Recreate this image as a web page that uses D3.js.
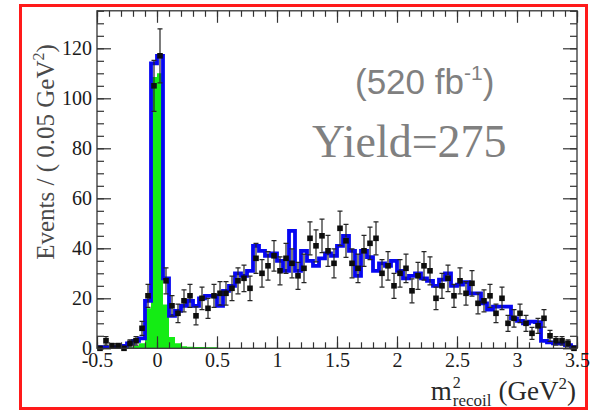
<!DOCTYPE html>
<html><head><meta charset="utf-8">
<script src="https://cdn.jsdelivr.net/npm/d3@7"></script>
<style>html,body{margin:0;padding:0;background:#fff;} svg{display:block}</style>
</head><body>
<svg id="chart" width="593" height="415"></svg>
<script>
// ---- data (80 bins of 0.05 GeV^2 from -0.5 to 3.5) ----
const binLow = -0.5, binWidth = 0.05, nBins = 80;
const dataCounts = [0,3,1,1,0,2,3,8,21,105, 117,27,17,14,19,21,13,20,16,21,
  22,22,24,27,28,24,36,30,33,37, 31,36,34,29,32,44,41,45,39,34,
  48,43,34,32,39,42,44,30,33,25, 30,32,23,29,33,31,20,25,28,21,
  27,22,26,18,19,21,14,20,10,12, 14,10,6,9,12,5,3,3,2,0];
const dataErrors = [0,1.7,1,1,0,1.4,1.7,2.8,4.6,10.2, 10.8,5.2,4.1,3.7,4.4,4.6,3.6,4.5,4.0,4.6,
  4.7,4.7,4.9,5.2,5.3,4.9,6.0,5.5,5.7,6.1, 5.6,6.0,5.8,5.4,5.7,6.6,6.4,6.7,6.2,5.8,
  6.9,6.6,5.8,5.7,6.2,6.5,6.6,5.5,5.7,5.0, 5.5,5.7,4.8,5.4,5.7,5.6,4.5,5.0,5.3,4.6,
  5.2,4.7,5.1,4.2,4.4,4.6,3.7,4.5,3.2,3.5, 3.7,3.2,2.4,3.0,3.5,2.2,1.7,1.7,1.4,0];
const fitTotal = [0.5,0.5,0.5,0.5,1,2,3,4,19,114, 117,28,13,15,17,19,17,20,21,21,
  17,23,25,30,29,31,41,39,37,38, 35,31,47,31,39,35,33,36,38,37,
  41,45,39,29,39,36.5,31,34,33,35, 31,28,29,30,28,27,25,27.5,30,25,
  25.5,26.5,22,22,18,15.5,16.7,16.7,16.7,12, 11,10,10.7,10.5,3,2.4,2,2,1.3,0.5];
const signalMC = [0,0,0,0,0,0.4,1,2,16,108.5, 110,17.5,4.5,2,0.8,0.6,0.5,0.5,0.4,0.4,
  0,0,0,0,0,0,0,0,0,0, 0,0,0,0,0,0,0,0,0,0, 0,0,0,0,0,0,0,0,0,0,
  0,0,0,0,0,0,0,0,0,0, 0,0,0,0,0,0,0,0,0,0, 0,0,0,0,0,0,0,0,0,0];
const xTickLabels = [-0.5,0,0.5,1,1.5,2,2.5,3,3.5];
const yTickLabels = [0,20,40,60,80,100,120];

// ---- layout ----
const svg = d3.select('#chart');
const X0 = 97, X1 = 577, Y0 = 348.3, Y1 = 10.8;
const x = d3.scaleLinear().domain([-0.5, 3.5]).range([X0, X1]);
const y = d3.scaleLinear().domain([0, 135]).range([Y0, Y1]);
const serif = "'Liberation Serif','Times New Roman',serif";
const sans = "'Liberation Sans',Arial,sans-serif";

svg.append('rect').attr('x', 20.5).attr('y', 5.5).attr('width', 566).attr('height', 403)
  .attr('fill', 'none').attr('stroke', '#ff1a1a').attr('stroke-width', 3);

svg.append('clipPath').attr('id', 'clip').append('rect')
  .attr('x', X0).attr('y', Y1).attr('width', X1 - X0).attr('height', Y0 - Y1);

const edges = d3.range(nBins + 1).map(i => binLow + i * binWidth);
const stepPts = vals => vals.map((v, i) => [edges[i], v]).concat([[edges[vals.length], vals[vals.length - 1]]]);
const plot = svg.append('g').attr('clip-path', 'url(#clip)');

plot.append('path')
  .attr('d', d3.area().curve(d3.curveStepAfter).x(d => x(d[0])).y0(y(0)).y1(d => y(d[1]))(stepPts(signalMC)))
  .attr('fill', '#14ec14');

plot.append('path')
  .attr('d', d3.line().curve(d3.curveStepAfter).x(d => x(d[0])).y(d => y(d[1]))(stepPts(fitTotal)))
  .attr('fill', 'none').attr('stroke', '#0707f2').attr('stroke-width', 3.8).attr('stroke-linejoin', 'miter');

const centers = dataCounts.map((v, i) => ({c: binLow + (i + 0.5) * binWidth, v, e: dataErrors[i]}));
const eb = plot.append('g').attr('stroke', '#262626').attr('stroke-width', 1.2);
centers.filter(d => d.e > 0).forEach(d => {
  eb.append('line').attr('x1', x(d.c)).attr('x2', x(d.c)).attr('y1', y(d.v - d.e)).attr('y2', y(d.v + d.e));
  eb.append('line').attr('x1', x(d.c) - 2.5).attr('x2', x(d.c) + 2.5).attr('y1', y(d.v + d.e)).attr('y2', y(d.v + d.e));
  eb.append('line').attr('x1', x(d.c) - 2.5).attr('x2', x(d.c) + 2.5).attr('y1', y(d.v - d.e)).attr('y2', y(d.v - d.e));
});
svg.append('g').selectAll('rect').data(centers).join('rect')
  .attr('x', d => x(d.c) - 2.8).attr('y', d => y(d.v) - 2.8).attr('width', 5.6).attr('height', 5.6)
  .attr('fill', '#0d0d0d');

// ---- axes ----
const xMinor = d3.range(-5, 36).map(k => k / 10);
const yMinor = d3.range(0, 28).map(k => k * 5);
function style(g) {
  g.select('.domain').remove();
  g.selectAll('.tick line').attr('stroke', '#333').attr('stroke-width', 1.2);
  g.selectAll('.tick text').attr('font-family', serif).attr('font-size', 20).attr('fill', '#1a1a1a');
}
const fmt = d => String(d);
svg.append('g').attr('transform', `translate(0,${Y0})`).call(d3.axisBottom(x).tickValues(xTickLabels).tickSize(-12).tickPadding(5).tickFormat(fmt)).call(style);
svg.append('g').attr('transform', `translate(0,${Y0})`).call(d3.axisBottom(x).tickValues(xMinor).tickSize(-6).tickFormat('')).call(style);
svg.append('g').attr('transform', `translate(0,${Y1})`).call(d3.axisTop(x).tickValues(xTickLabels).tickSize(-12).tickFormat('')).call(style);
svg.append('g').attr('transform', `translate(0,${Y1})`).call(d3.axisTop(x).tickValues(xMinor).tickSize(-6).tickFormat('')).call(style);
svg.append('g').attr('transform', `translate(${X0},0)`).call(d3.axisLeft(y).tickValues(yTickLabels).tickSize(-14).tickPadding(5).tickFormat(fmt)).call(style);
svg.append('g').attr('transform', `translate(${X0},0)`).call(d3.axisLeft(y).tickValues(yMinor).tickSize(-7).tickFormat('')).call(style);
svg.append('g').attr('transform', `translate(${X1},0)`).call(d3.axisRight(y).tickValues(yTickLabels).tickSize(-14).tickFormat('')).call(style);
svg.append('g').attr('transform', `translate(${X1},0)`).call(d3.axisRight(y).tickValues(yMinor).tickSize(-7).tickFormat('')).call(style);

svg.append('rect').attr('x', X0).attr('y', Y1).attr('width', X1 - X0).attr('height', Y0 - Y1)
  .attr('fill', 'none').attr('stroke', '#333').attr('stroke-width', 1.3);

// ---- titles ----
const yt = svg.append('text').attr('transform', 'translate(54,152) rotate(-90)')
  .attr('text-anchor', 'middle').attr('font-family', serif).attr('font-size', 25).attr('fill', '#4a4a4a');
yt.append('tspan').text('Events / ( 0.05 GeV');
yt.append('tspan').attr('font-size', 16).attr('dy', -10).text('2');
yt.append('tspan').attr('dy', 10).text(')');

const xt = svg.append('g').attr('font-family', serif).attr('fill', '#2a2a2a');
const xb = 400;
const tm = xt.append('text').attr('y', xb).attr('font-size', 27).text('m');
const tsup = xt.append('text').attr('y', xb - 12.5).attr('font-size', 16).text('2');
const tsub = xt.append('text').attr('y', xb + 6).attr('font-size', 17).text('recoil');
const tg = xt.append('text').attr('y', xb).attr('font-size', 27);
tg.append('tspan').text('(GeV');
tg.append('tspan').attr('font-size', 17).attr('dy', -11).text('2');
tg.append('tspan').attr('dy', 11).text(')');
const wm = tm.node().getComputedTextLength();
const ws = tsub.node().getComputedTextLength();
const wg = tg.node().getComputedTextLength();
const total = wm + 1 + ws + 7 + wg;
const xs = 576 - total;
tm.attr('x', xs); tsup.attr('x', xs + wm + 1); tsub.attr('x', xs + wm + 1);
tg.attr('x', xs + wm + 1 + ws + 7);

const lum = svg.append('text').attr('x', 355).attr('y', 94).attr('font-family', sans).attr('font-size', 35).attr('fill', '#808080');
lum.append('tspan').text('(520 fb');
lum.append('tspan').attr('font-size', 21).attr('dy', -14).text('-1');
lum.append('tspan').attr('dy', 14).text(')');

svg.append('text').attr('x', 312).attr('y', 157).attr('font-family', serif).attr('font-size', 46)
  .attr('fill', '#808080').text('Yield=275');
</script>
</body></html>
